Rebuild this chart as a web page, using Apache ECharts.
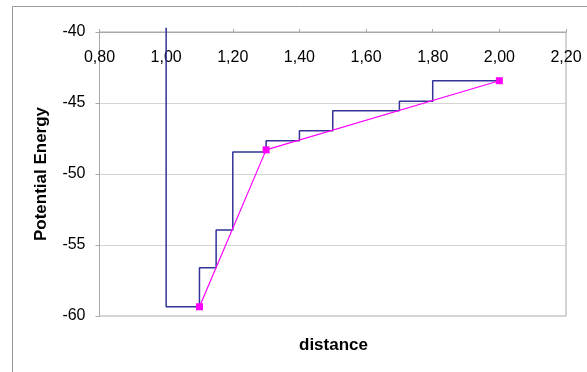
<!DOCTYPE html>
<html><head><meta charset="utf-8">
<script src="https://cdn.jsdelivr.net/npm/echarts@6/dist/echarts.min.js"></script>
<style>html,body{margin:0;padding:0;background:#fff}#c{width:587px;height:372px}</style>
</head><body><div id="c"></div>
<script>
var xTicks = [0.8, 1.0, 1.2, 1.4, 1.6, 1.8, 2.0, 2.2];
var yTicks = [-60, -55, -50, -45, -40];
var stepX = [1.00, 1.00, 1.10, 1.15, 1.20, 1.30, 1.40, 1.50, 1.70, 1.80, 2.00];
var stepY = [-39.7, -59.35, -56.6, -53.94, -48.45, -47.65, -46.95, -45.55, -44.88, -43.43, -43.43];
var fitX = [1.10, 1.30, 2.00];
var fitY = [-59.35, -48.3, -43.43];

var chart = echarts.init(document.getElementById('c'), null, {renderer: 'canvas'});
var font = '"Liberation Sans", Arial, sans-serif';
chart.setOption({
  animation: false,
  textStyle: {fontFamily: font},
  grid: {left: 99.5, top: 32, right: 21, bottom: 56, show: true, borderColor: '#a8a8a8', borderWidth: 1},
  graphic: [
    {type: 'rect', shape: {x: 12.5, y: 6.5, width: 700, height: 500}, style: {fill: 'none', stroke: '#9a9a9a', lineWidth: 1}, z: -1},
    {type: 'text', x: 333.5, y: 345, style: {text: 'distance', font: 'bold 17px ' + font, fill: '#000', textAlign: 'center', textVerticalAlign: 'middle'}}
  ],
  xAxis: {
    type: 'value', position: 'top', min: xTicks[0], max: xTicks[xTicks.length - 1], interval: 0.2,
    axisLine: {show: true, lineStyle: {color: '#a8a8a8', width: 1}},
    axisTick: {show: true, inside: false, length: 3, lineStyle: {color: '#a8a8a8'}},
    axisLabel: {inside: true, margin: 18, color: '#000', fontSize: 16, fontFamily: font,
      formatter: function (v) { return v.toFixed(2).replace('.', ','); }},
    splitLine: {show: false}
  },
  yAxis: {
    type: 'value', min: yTicks[0], max: yTicks[yTicks.length - 1], interval: 5,
    name: 'Potential Energy', nameLocation: 'middle', nameGap: 50, nameRotate: 90,
    nameTextStyle: {fontWeight: 'bold', fontSize: 17, color: '#000', fontFamily: font},
    axisLine: {show: true, lineStyle: {color: '#a8a8a8', width: 1}},
    axisTick: {show: true, inside: false, length: 4, lineStyle: {color: '#a8a8a8'}},
    axisLabel: {margin: 14, color: '#000', fontSize: 16, fontFamily: font},
    splitLine: {show: true, lineStyle: {color: '#d4d4d4', width: 1}}
  },
  series: [
    {type: 'line', step: 'end', clip: false, showSymbol: false, symbol: 'none',
      data: stepX.map(function (x, i) { return [x, stepY[i]]; }),
      lineStyle: {color: '#333399', width: 1.5}, z: 2},
    {type: 'line', symbol: 'rect', symbolSize: 7,
      data: fitX.map(function (x, i) { return [x, fitY[i]]; }),
      itemStyle: {color: '#ff00ff'}, lineStyle: {color: '#ff00ff', width: 1.2}, z: 3}
  ]
});
</script></body></html>
